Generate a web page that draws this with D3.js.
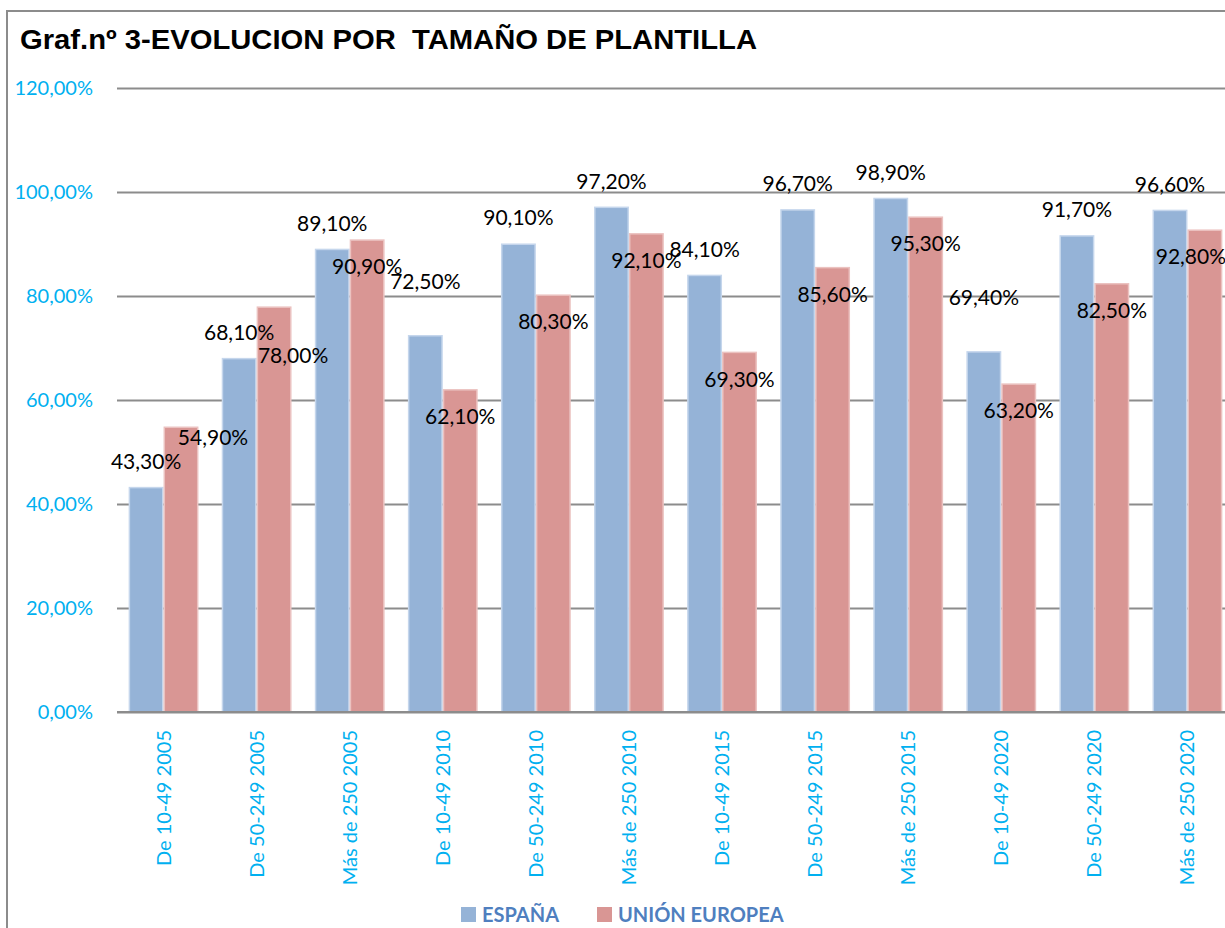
<!DOCTYPE html>
<html>
<head>
<meta charset="utf-8">
<script src="https://cdn.jsdelivr.net/npm/d3@7"></script>
<style>
  body { margin: 0; background: #fff; }
  svg { display: block; }
</style>
</head>
<body>
<svg id="chart"></svg>
<script>
const categories = [
    "De 10-49 2005", "De 50-249 2005", "Más de 250 2005",
    "De 10-49 2010", "De 50-249 2010", "Más de 250 2010",
    "De 10-49 2015", "De 50-249 2015", "Más de 250 2015",
    "De 10-49 2020", "De 50-249 2020", "Más de 250 2020"
];
const espana = [43.3, 68.1, 89.1, 72.5, 90.1, 97.2, 84.1, 96.7, 98.9, 69.4, 91.7, 96.6];
const unionEuropea = [54.9, 78.0, 90.9, 62.1, 80.3, 92.1, 69.3, 85.6, 95.3, 63.2, 82.5, 92.8];
const seriesNames = ["ESPAÑA", "UNIÓN EUROPEA"];
const yTicks = [0, 20, 40, 60, 80, 100, 120];

const width = 1225,
    height = 928,
    colors = ["#95b3d7", "#d99694"],
    edgeColors = ["#c5d6ec", "#ebc2c0"],
    fmt = function (v) { return v.toFixed(2).replace(".", ",") + "%"; };

const svg = d3.select("#chart")
    .attr("width", width)
    .attr("height", height)
    .style("font-family", "Lato, 'Open Sans', sans-serif");

// chart frame (cut off at the right and bottom in the original)
svg.append("rect")
    .attr("x", 7).attr("y", 11)
    .attr("width", width + 20).attr("height", height + 20)
    .attr("fill", "none")
    .attr("stroke", "#8c8c8c")
    .attr("stroke-width", 2);

svg.append("text")
    .attr("x", 20).attr("y", 49)
    .attr("textLength", 737)
    .attr("lengthAdjust", "spacingAndGlyphs")
    .style("font-family", "'Liberation Sans', Arial, sans-serif")
    .style("font-weight", "bold")
    .style("font-size", "28px")
    .style("white-space", "pre")
    .attr("fill", "#000")
    .text("Graf.nº 3-EVOLUCION POR  TAMAÑO DE PLANTILLA");

const y = d3.scaleLinear().domain([0, 120]).range([712, 88]);

const x0 = d3.scaleBand()
    .domain(categories)
    .range([117, 1234])
    .paddingInner(0.25)
    .paddingOuter(0.125);

const x1 = d3.scaleBand()
    .domain([0, 1])
    .range([0, x0.bandwidth()]);

// gridlines + y labels
const yAxis = d3.axisLeft(y)
    .tickValues(yTicks)
    .tickSize(-(width - 117))
    .tickPadding(24)
    .tickFormat(fmt);

const gy = svg.append("g")
    .attr("transform", "translate(117,0)")
    .call(yAxis);
gy.select(".domain").remove();
gy.selectAll(".tick line")
    .attr("stroke", "#8c8c8c")
    .attr("stroke-width", 2);
gy.selectAll(".tick text")
    .attr("fill", "#00b0f0")
    .style("font-size", "20px")
    .style("font-family", "Lato, 'Open Sans', sans-serif");

// bars
const seriesData = [espana, unionEuropea];
const groups = svg.append("g")
    .selectAll("g")
    .data(categories)
    .join("g")
    .attr("transform", function (d) { return "translate(" + x0(d) + ",0)"; });

groups.selectAll("rect")
    .data(function (d, i) { return seriesData.map(function (s, k) { return { k: k, v: s[i] }; }); })
    .join("rect")
    .attr("x", function (d) { return x1(d.k) + 0.75; })
    .attr("y", function (d) { return y(d.v) + 0.75; })
    .attr("width", x1.bandwidth() - 1.5)
    .attr("height", function (d) { return y(0) - y(d.v) - 0.75; })
    .attr("fill", function (d) { return colors[d.k]; })
    .attr("stroke", function (d) { return edgeColors[d.k]; })
    .attr("stroke-width", 1.5);

// baseline on top of bars
svg.append("line")
    .attr("x1", 117).attr("x2", width)
    .attr("y1", y(0)).attr("y2", y(0))
    .attr("stroke", "#8c8c8c")
    .attr("stroke-width", 2);

// value labels (manual Excel placement: España above, UE inside bar top)
const labelShiftEs = { "De 10-49 2010": -28, "De 10-49 2020": -28 };
const labelShiftUe = { "De 10-49 2005": -17, "De 50-249 2005": 22 };
const labelDxUe = { "De 10-49 2005": 32, "De 50-249 2005": 19, "Más de 250 2020": -14 };

const labels = svg.append("g")
    .style("font-size", "21px")
    .attr("fill", "#000")
    .attr("text-anchor", "middle");

labels.selectAll("text.es")
    .data(categories)
    .join("text")
    .attr("class", "es")
    .attr("x", function (d) { return x0(d) + x1(0) + x1.bandwidth() / 2; })
    .attr("y", function (d, i) { return y(espana[i]) - 18 + (labelShiftEs[d] || 0); })
    .text(function (d, i) { return fmt(espana[i]); });

labels.selectAll("text.ue")
    .data(categories)
    .join("text")
    .attr("class", "ue")
    .attr("x", function (d) { return x0(d) + x1(1) + x1.bandwidth() / 2 + (labelDxUe[d] || 0); })
    .attr("y", function (d, i) { return y(unionEuropea[i]) + 35 + (labelShiftUe[d] || 0); })
    .text(function (d, i) { return fmt(unionEuropea[i]); });

// x axis labels, rotated
svg.append("g")
    .selectAll("text")
    .data(categories)
    .join("text")
    .attr("transform", function (d) {
        return "translate(" + (x0(d) + x0.bandwidth() / 2 + 7) + "," + 730 + ") rotate(-90)";
    })
    .attr("text-anchor", "end")
    .attr("fill", "#00b0f0")
    .style("font-size", "20px")
    .text(function (d) { return d; });

// legend
const legendX = [461, 597];
const legend = svg.append("g")
    .selectAll("g")
    .data(seriesNames)
    .join("g")
    .attr("transform", function (d, i) { return "translate(" + legendX[i] + ",907)"; });

legend.append("rect")
    .attr("width", 15).attr("height", 15)
    .attr("fill", function (d, i) { return colors[i]; });

legend.append("text")
    .attr("x", 21).attr("y", 15)
    .attr("fill", "#4f7fbf")
    .style("font-weight", "bold")
    .style("font-size", "20px")
    .text(function (d) { return d; });
</script>
</body>
</html>
